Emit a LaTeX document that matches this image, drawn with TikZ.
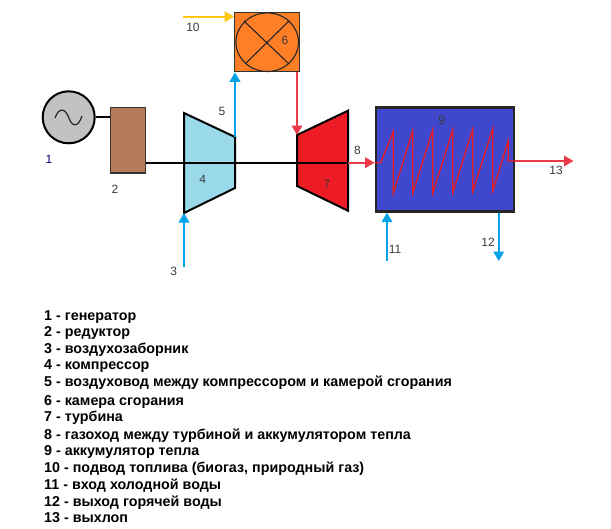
\documentclass[tikz,border=0pt]{standalone}
\usepackage{fontspec}
\setmainfont{Liberation Sans}
\usetikzlibrary{arrows.meta,calc}
\definecolor{airblue}{HTML}{00A2E8}
\definecolor{hotred}{HTML}{ED3A48}
\definecolor{fuelyel}{HTML}{FFC90E}
\definecolor{lbl}{HTML}{3A3A3A}
\definecolor{gearfill}{RGB}{181,122,87}
\definecolor{compfill}{RGB}{153,217,234}
\definecolor{turbfill}{RGB}{237,28,36}
\definecolor{combfill}{RGB}{255,127,39}
\definecolor{accfill}{RGB}{63,72,204}
\tikzset{
  x=1pt,y=-1pt,
  flow/.style={line width=2pt,-{Triangle[width=10.5pt,length=9.5pt]}},
  air/.style={flow,draw=airblue},
  gas/.style={flow,draw=hotred},
  fuel/.style={flow,draw=fuelyel},
  part/.style={draw=black,line width=2pt,line join=miter},
  num/.style={font=\fontsize{12}{12}\selectfont,text=lbl,inner sep=0pt},
  leg/.style={font=\fontsize{14.3}{15}\bfseries\selectfont,text=black,inner sep=0pt,anchor=base west},
}
\begin{document}
\begin{tikzpicture}
\useasboundingbox (0,0) rectangle (611,528);
% named points
\coordinate (ca) at (184,113); \coordinate (cb) at (235,137); \coordinate (cc) at (235,188); \coordinate (cd) at (184,213);
\coordinate (ta) at (297,135); \coordinate (tb) at (348,110.7); \coordinate (tc) at (348,210.7); \coordinate (td) at (297,186);
\coordinate (inair) at (184,267);
\coordinate (infuel) at (183,16.7);
\coordinate (incold) at (387,261);
\coordinate (outhot) at (498.7,261);
\coordinate (outex) at (573.5,161);
\coordinate (shaftend) at (348,162.7);
% parts
\node[draw=black,fill=black!24,line width=2pt,circle,minimum size=52pt,inner sep=0pt] (gen) at (68.7,117.3) {};
\draw[line width=1.2pt,black!85] (55,118) .. controls (59,107) and (65,108) .. (68.7,117.5) .. controls (72,127) and (78,128) .. (82,116);
\node[draw=black!80,fill=gearfill,line width=1.6pt,minimum width=35pt,minimum height=65.6pt,inner sep=0pt] (gear) at (127.8,140.2) {};
\draw[part,fill=compfill] (ca) -- (cb) -- (cc) -- (cd) -- cycle;
\draw[part,fill=turbfill] (ta) -- (tb) -- (tc) -- (td) -- cycle;
\node[draw=black!80,fill=combfill,line width=1.2pt,minimum width=65pt,minimum height=59pt,inner sep=0pt] (comb) at (267.2,42.2) {};
\draw[line width=1.1pt,black!85] (comb.center) ellipse [x radius=31.3pt,y radius=29.3pt];
\draw[line width=1.1pt,black!85] (244,21) -- (288,63) (289,21) -- (246,63);
\node[draw=black!85,fill=accfill,line width=2.4pt,minimum width=138.5pt,minimum height=104pt,inner sep=0pt] (acc) at (445,159.4) {};
% connectors
\draw[line width=2pt] (gen.east) -- (gear.west |- gen.east);
\draw[line width=2pt] (gear.east |- shaftend) -- (shaftend);
\draw[fuel] (infuel) -- (comb.west |- infuel);
\draw[air] (cb) -- (cb |- comb.south);
\draw[air] (inair) -- (cd);
\draw[gas] (ta |- comb.south) -- (ta);
\draw[gas] (shaftend) -- (acc.west |- shaftend);
\draw[air] (incold) -- (incold |- acc.south);
\draw[air] (outhot |- acc.south) -- (outhot);
\draw[line width=1.3pt,draw=turbfill,line join=miter] (acc.west |- shaftend) -- (380.7,162.7)
  -- (393.3,131.7) -- (393.3,193.3) -- (412.7,130.7) -- (412.7,193.3) -- (432.7,130) -- (432.7,193.3)
  -- (452.7,130) -- (452.7,192.7) -- (472.7,129.3) -- (472.7,191.7) -- (492.7,128.7) -- (492.7,191)
  -- (508.3,140.7) -- (508.3,161) -- (acc.east |- outex);
\draw[gas] (acc.east |- outex) -- (outex);
% numbers
\node[num,text=blue!45!black] (n1) at (49,159) {1};
\node[num] (n2) at (115,189) {2};
\node[num] (n3) at (173.7,271) {3};
\node[num] (n4) at (202.7,179) {4};
\node[num] (n5) at (222,111) {5};
\node[num] (n6) at (285,40) {6};
\node[num] (n7) at (327,184) {7};
\node[num] (n8) at (357.5,150) {8};
\node[num] (n9) at (441.7,120) {9};
\node[num] (n10) at (193,27.7) {10};
\node[num] (n11) at (395,249.3) {11};
\node[num] (n12) at (488,242) {12};
\node[num] (n13) at (556,170) {13};
% legend
\node[leg] (l1) at (44,320) {1 - генератор};
\node[leg] (l2) at (44,336.7) {2 - редуктор};
\node[leg] (l3) at (44,353.3) {3 - воздухозаборник};
\node[leg] (l4) at (44,369.7) {4 - компрессор};
\node[leg] (l5) at (44,386.7) {5 - воздуховод между компрессором и камерой сгорания};
\node[leg] (l6) at (44,405.3) {6 - камера сгорания};
\node[leg] (l7) at (44,421.7) {7 - турбина};
\node[leg] (l8) at (44,439.3) {8 - газоход между турбиной и аккумулятором тепла};
\node[leg] (l9) at (44,455.7) {9 - аккумулятор тепла};
\node[leg] (l10) at (44,472.7) {10 - подвод топлива (биогаз, природный газ)};
\node[leg] (l11) at (44,489) {11 - вход холодной воды};
\node[leg] (l12) at (44,506) {12 - выход горячей воды};
\node[leg] (l13) at (44,522.3) {13 - выхлоп};
\end{tikzpicture}
\end{document}
